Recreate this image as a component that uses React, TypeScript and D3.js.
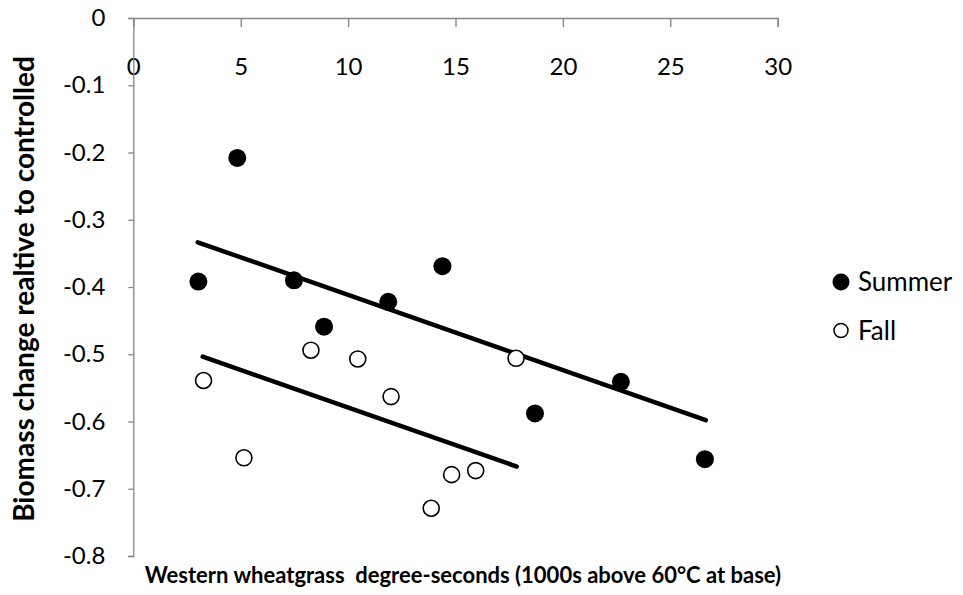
import { useEffect, useRef } from 'react'
import * as d3 from 'd3'

// Summer (filled) and Fall (open) points
const summerX = [3.03, 4.84, 7.48, 8.88, 11.87, 14.39, 18.7, 22.7, 26.61]
const summerY = [-0.392, -0.208, -0.39, -0.459, -0.422, -0.369, -0.588, -0.541, -0.656]
const fallX = [3.27, 5.15, 8.27, 10.45, 12.0, 13.87, 14.82, 15.94, 17.82]
const fallY = [-0.539, -0.654, -0.494, -0.507, -0.563, -0.729, -0.679, -0.673, -0.506]

// linear trendline end points
const summerTrendX = [3.0, 26.65]
const summerTrendY = [-0.3335, -0.598]
const fallTrendX = [3.23, 17.85]
const fallTrendY = [-0.5036, -0.667]

const xTicks = [0, 5, 10, 15, 20, 25, 30]
const yTicks = [0, -0.1, -0.2, -0.3, -0.4, -0.5, -0.6, -0.7, -0.8]

const seriesNames = ['Summer', 'Fall']
const xTitle = 'Western wheatgrass  degree-seconds (1000s above 60°C at base)'
const yTitle = 'Biomass change realtive to controlled'

function App() {
  const ref = useRef<SVGSVGElement>(null)

  useEffect(() => {
    if (!ref.current) return
    const width = 963, height = 595
    const font = 'Lato, "Open Sans", sans-serif'
    const axisColor = '#868686'

    const svg = d3.select(ref.current)
      .attr('width', width)
      .attr('height', height)
    svg.selectAll('*').remove()

    const x = d3.scaleLinear().domain([0, 30]).range([133.3, 777.7])
    const y = d3.scaleLinear().domain([-0.8, 0]).range([556, 18])

    // x axis sits at the top (y = 0)
    const gx = svg.append('g')
      .attr('transform', `translate(0,${y(0)})`)
      .call(d3.axisBottom(x).tickValues(xTicks).tickSize(9).tickFormat(d3.format('d')))
    gx.select('.domain').attr('stroke', axisColor).attr('stroke-width', 1.3)
    gx.selectAll('.tick line').attr('stroke', axisColor).attr('stroke-width', 1.3)
    gx.selectAll('.tick text')
      .attr('y', 57).attr('dy', 0)
      .attr('fill', '#000')
      .style('font-family', font).style('font-size', '24px')

    const gy = svg.append('g')
      .attr('transform', `translate(${x(0)},0)`)
      .call(d3.axisLeft(y).tickValues(yTicks).tickSize(5).tickSizeOuter(5).tickPadding(23)
        .tickFormat(d => (+d === 0 ? '0' : '-' + d3.format('.1f')(Math.abs(+d)))))
    gy.select('.domain').attr('stroke', axisColor).attr('stroke-width', 1.3)
    gy.selectAll('.tick line').attr('stroke', axisColor).attr('stroke-width', 1.3)
    gy.selectAll('.tick text')
      .attr('fill', '#000')
      .style('font-family', font).style('font-size', '24px')

    // trendlines
    const drawTrend = (xs: number[], ys: number[]) => {
      svg.append('path')
        .datum(xs.map((v, i) => [v, ys[i]] as [number, number]))
        .attr('fill', 'none')
        .attr('stroke', '#000')
        .attr('stroke-width', 4.5)
        .attr('stroke-linecap', 'round')
        .attr('d', d3.line<[number, number]>().x(d => x(d[0])).y(d => y(d[1])))
    }
    drawTrend(summerTrendX, summerTrendY)
    drawTrend(fallTrendX, fallTrendY)

    // points
    svg.append('g').selectAll('circle')
      .data(summerX.map((v, i) => [v, summerY[i]]))
      .join('circle')
      .attr('cx', d => x(d[0]))
      .attr('cy', d => y(d[1]))
      .attr('r', 9)
      .attr('fill', '#000')

    svg.append('g').selectAll('circle')
      .data(fallX.map((v, i) => [v, fallY[i]]))
      .join('circle')
      .attr('cx', d => x(d[0]))
      .attr('cy', d => y(d[1]))
      .attr('r', 8)
      .attr('fill', '#fff')
      .attr('stroke', '#000')
      .attr('stroke-width', 1.6)

    // axis titles
    svg.append('text')
      .attr('x', 463)
      .attr('y', 583)
      .attr('text-anchor', 'middle')
      .style('font-family', font).style('font-size', '22px').style('font-weight', 'bold')
      .style('white-space', 'pre')
      .text(xTitle)

    svg.append('text')
      .attr('transform', 'translate(34,289) rotate(-90)')
      .attr('text-anchor', 'middle')
      .style('font-family', font).style('font-size', '28px').style('font-weight', 'bold')
      .text(yTitle)

    // legend
    const legend = svg.append('g').attr('transform', 'translate(841,282)')
    seriesNames.forEach((name, i) => {
      const g = legend.append('g').attr('transform', `translate(0,${i * 48.5})`)
      g.append('circle')
        .attr('r', i === 0 ? 8.5 : 7)
        .attr('fill', i === 0 ? '#000' : '#fff')
        .attr('stroke', '#000')
        .attr('stroke-width', i === 0 ? 0 : 1.5)
      g.append('text')
        .attr('x', 17)
        .attr('dy', '0.36em')
        .style('font-family', font).style('font-size', '26px')
        .text(name)
    })
  }, [])

  return (
    <svg ref={ref} style={{ position: 'absolute', left: 0, top: 0 }}></svg>
  )
}

export default App
